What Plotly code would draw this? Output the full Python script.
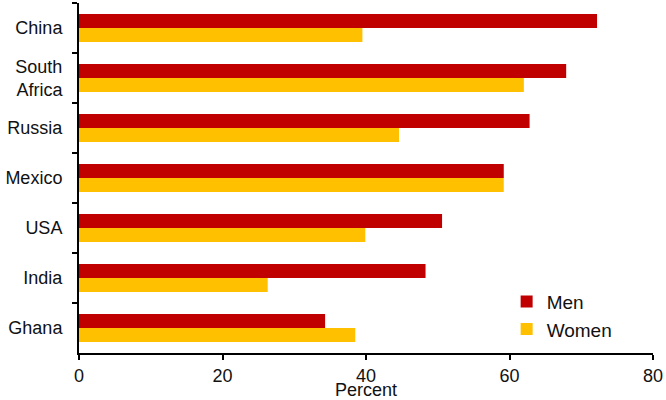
import plotly.graph_objects as go

countries = ["China", "South<br>Africa", "Russia", "Mexico", "USA", "India", "Ghana"]
men = [72.2, 67.9, 62.8, 59.2, 50.6, 48.3, 34.3]
women = [39.5, 62.0, 44.6, 59.2, 39.9, 26.3, 38.5]
x_ticks = [0, 20, 40, 60, 80]

MEN_COLOR = "#C00000"
WOMEN_COLOR = "#FFC000"
FONT = "Liberation Sans, Arial, sans-serif"

fig = go.Figure()
fig.add_trace(go.Bar(y=countries, x=men, orientation="h", name="Men",
                     marker=dict(color=MEN_COLOR, line=dict(width=0))))
fig.add_trace(go.Bar(y=countries, x=women, orientation="h", name="Women",
                     marker=dict(color=WOMEN_COLOR, line=dict(width=0))))

fig.update_layout(
    width=666, height=400,
    margin=dict(l=79, r=13, t=3, b=47),
    paper_bgcolor="white", plot_bgcolor="white",
    barmode="group", bargap=0.44, bargroupgap=0,
    font=dict(family=FONT, size=18, color="#111111"),
    showlegend=True,
    legend=dict(x=0.745, y=0.107, xanchor="left", yanchor="middle",
                font=dict(size=19, color="#111111"), bgcolor="rgba(0,0,0,0)",
                tracegroupgap=0),
)
fig.update_xaxes(range=[0, 80], tickvals=x_ticks, ticktext=[str(v) for v in x_ticks],
                 showgrid=False, zeroline=False, showline=True, linecolor="black",
                 linewidth=2, ticks="outside", ticklen=5, tickwidth=2, tickcolor="black",
                 title=dict(text="Percent", standoff=2, font=dict(size=18)),
                 tickfont=dict(size=18), automargin=False)
fig.update_yaxes(autorange="reversed", type="category", tickson="boundaries",
                 showgrid=False, showline=True, linecolor="black", linewidth=2,
                 ticks="outside", ticklen=5, tickwidth=2, tickcolor="black",
                 tickfont=dict(size=18), ticklabelstandoff=11, automargin=False)

fig.write_html("out.html", config={"displayModeBar": False},
               post_script="document.body.style.margin='0';")
